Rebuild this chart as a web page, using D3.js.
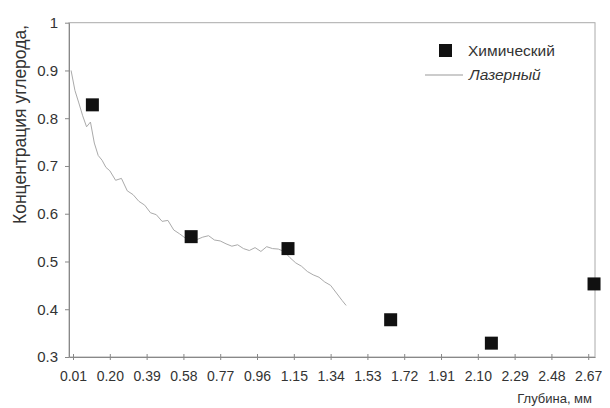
<!DOCTYPE html>
<html>
<head>
<meta charset="utf-8">
<script src="https://cdn.jsdelivr.net/npm/d3@7"></script>
<style>
  body { margin: 0; background: #fff; }
  text { font-family: "Liberation Sans", Arial, sans-serif; fill: #333; }
</style>
</head>
<body>
<svg id="chart" width="610" height="408"></svg>
<script>
// chemical analysis points
const chemDepth = [0.11, 0.62, 1.12, 1.65, 2.17, 2.70];
const chemValue = [0.828, 0.552, 0.527, 0.378, 0.329, 0.453];

// laser measurement curve
const laserDepth = [0.00, 0.02, 0.04, 0.06, 0.08, 0.10, 0.12, 0.14, 0.16, 0.18, 0.20,
  0.23, 0.26, 0.29, 0.32, 0.35, 0.38, 0.41, 0.44, 0.47, 0.50, 0.53, 0.56, 0.59,
  0.62, 0.65, 0.68, 0.71, 0.74, 0.77, 0.80, 0.83, 0.86, 0.89, 0.92, 0.95, 0.98,
  1.01, 1.04, 1.07, 1.10, 1.13, 1.16, 1.19, 1.22, 1.25, 1.28, 1.31, 1.34, 1.37,
  1.40, 1.42];
const laserValue = [0.900, 0.858, 0.832, 0.805, 0.782, 0.792, 0.748, 0.722, 0.712, 0.697, 0.690,
  0.670, 0.674, 0.648, 0.640, 0.626, 0.618, 0.602, 0.598, 0.584, 0.586, 0.566, 0.558, 0.549,
  0.550, 0.546, 0.551, 0.554, 0.545, 0.543, 0.537, 0.532, 0.535, 0.527, 0.523, 0.529, 0.521,
  0.531, 0.527, 0.526, 0.521, 0.508, 0.497, 0.490, 0.479, 0.472, 0.467, 0.457, 0.450, 0.434,
  0.418, 0.408];

const xTicks = [0.01, 0.20, 0.39, 0.58, 0.77, 0.96, 1.15, 1.34, 1.53, 1.72, 1.91, 2.10, 2.29, 2.48, 2.67];
const yTicks = [0.3, 0.4, 0.5, 0.6, 0.7, 0.8, 0.9, 1];

const margin = { top: 22.7, right: 15, bottom: 51, left: 69 };
const width = 610 - margin.left - margin.right;
const height = 408 - margin.top - margin.bottom;

const svg = d3.select('#chart');
const g = svg.append('g').attr('transform', `translate(${margin.left},${margin.top})`);

const x = d3.scaleLinear().domain([-0.0107, 2.705]).range([0, width]);
const y = d3.scaleLinear().domain([0.3, 1]).range([height, 0]);

// frame
g.append('rect')
  .attr('width', width)
  .attr('height', height)
  .attr('fill', 'none')
  .attr('stroke', '#aaa')
  .attr('stroke-width', 1);

const xAxis = g.append('g')
  .attr('transform', `translate(0,${height})`)
  .call(d3.axisBottom(x).tickValues(xTicks).tickFormat(d3.format('.2f')).tickSize(3).tickSizeOuter(0).tickPadding(11));
xAxis.selectAll('.tick line').attr('y1', -3).attr('stroke', '#888');
xAxis.select('.domain').attr('stroke', '#888');
xAxis.selectAll('text').attr('font-size', 14).attr('fill', '#333');

const yAxis = g.append('g')
  .call(d3.axisLeft(y).tickValues(yTicks).tickFormat(d => d === 1 ? '1' : d3.format('.1f')(d)).tickSize(4).tickSizeOuter(0).tickPadding(7));
yAxis.selectAll('.tick line').attr('stroke', '#888');
yAxis.select('.domain').attr('stroke', '#888');
yAxis.selectAll('text').attr('font-size', 15).attr('fill', '#333');

// laser line
const laser = laserDepth.map((d, i) => [d, laserValue[i]]);
g.append('path')
  .datum(laser)
  .attr('fill', 'none')
  .attr('stroke', '#aaa')
  .attr('stroke-width', 1)
  .attr('d', d3.line().x(d => x(d[0])).y(d => y(d[1])));

// chemical squares
const sq = 13;
g.selectAll('rect.chem')
  .data(chemDepth.map((d, i) => [d, chemValue[i]]))
  .join('rect')
  .attr('class', 'chem')
  .attr('x', d => x(d[0]) - sq / 2)
  .attr('y', d => y(d[1]) - sq / 2)
  .attr('width', sq)
  .attr('height', sq)
  .attr('fill', '#111');

// legend
const legend = svg.append('g').attr('transform', 'translate(420,0)');
legend.append('rect').attr('x', 19).attr('y', 44).attr('width', 13).attr('height', 13).attr('fill', '#111');
legend.append('text').attr('x', 48).attr('y', 56).attr('font-size', 15.5).text('Химический');
legend.append('line').attr('x1', 5).attr('x2', 43).attr('y1', 75).attr('y2', 75).attr('stroke', '#999');
legend.append('text').attr('x', 49).attr('y', 80).attr('font-size', 15.5).attr('font-style', 'italic').text('Лазерный');

// axis titles
svg.append('text')
  .attr('transform', 'translate(26,224) rotate(-90)')
  .attr('font-size', 17.5)
  .text('Концентрация углерода,');

svg.append('text')
  .attr('x', 592)
  .attr('y', 403)
  .attr('text-anchor', 'end')
  .attr('font-size', 13)
  .text('Глубина, мм');
</script>
</body>
</html>
